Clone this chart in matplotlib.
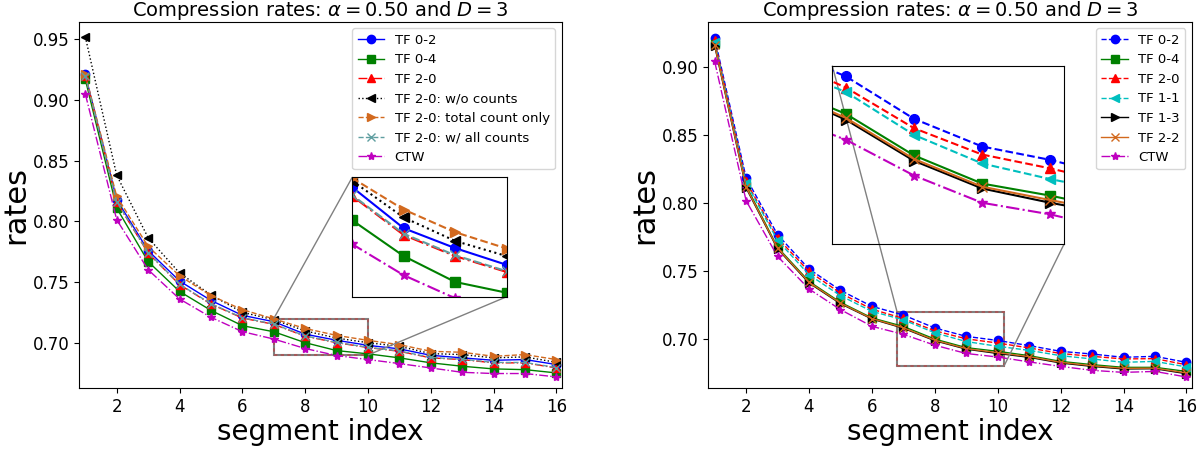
import matplotlib
matplotlib.use('Agg')
import matplotlib.pyplot as plt
import numpy as np
from matplotlib.patches import Rectangle
from mpl_toolkits.axes_grid1.inset_locator import mark_inset


''' Compression rates per segment, two panels with zoomed insets '''

segments = np.arange(1, 17)

# left panel
tf02_l = [0.921, 0.818, 0.776, 0.751, 0.735, 0.7227, 0.7175, 0.7072, 0.7022, 0.6980, 0.6951, 0.6898, 0.6877, 0.6857, 0.6863, 0.6822]
tf04_l = [0.917, 0.811, 0.767, 0.7424, 0.7268, 0.7142, 0.7092, 0.7002, 0.6937, 0.6910, 0.6877, 0.6836, 0.6808, 0.6786, 0.6780, 0.6753]
tf20_l = [0.920, 0.816, 0.774, 0.748, 0.732, 0.7205, 0.7153, 0.7055, 0.7002, 0.6962, 0.6931, 0.6877, 0.6863, 0.6836, 0.6836, 0.6794]
tf20_nocnt = [0.952, 0.838, 0.7866, 0.7576, 0.7395, 0.7252, 0.7191, 0.7099, 0.7040, 0.7002, 0.6972, 0.6912, 0.6904, 0.6877, 0.6885, 0.6840]
tf20_total = [0.921, 0.8206, 0.7794, 0.7553, 0.739, 0.7274, 0.7198, 0.7119, 0.7062, 0.7021, 0.6986, 0.6931, 0.6923, 0.6890, 0.6904, 0.6863]
tf20_all = [0.920, 0.8163, 0.7743, 0.7483, 0.7323, 0.7208, 0.7155, 0.7058, 0.7004, 0.6964, 0.6934, 0.6880, 0.6866, 0.6839, 0.6839, 0.6797]
ctw_l = [0.905, 0.8014, 0.7603, 0.7362, 0.7211, 0.7093, 0.7032, 0.6954, 0.6896, 0.6863, 0.6830, 0.6794, 0.6758, 0.6748, 0.6748, 0.6720]

# right panel
tf02_r = [0.9217, 0.8186, 0.7768, 0.7515, 0.7358, 0.724, 0.7176, 0.7081, 0.7019, 0.6989, 0.6951, 0.6909, 0.6889, 0.6865, 0.6872, 0.6828]
tf04_r = [0.9175, 0.8129, 0.7675, 0.7424, 0.727, 0.7155, 0.7092, 0.6999, 0.6936, 0.6909, 0.6877, 0.6835, 0.6811, 0.6791, 0.6791, 0.6761]
tf20_r = [0.920, 0.816, 0.7743, 0.7497, 0.7338, 0.7219, 0.7151, 0.7060, 0.7001, 0.6970, 0.6934, 0.6893, 0.6872, 0.6853, 0.6855, 0.6810]
tf11_r = [0.9185, 0.8148, 0.7726, 0.7473, 0.7319, 0.7203, 0.7141, 0.7045, 0.6981, 0.6946, 0.6916, 0.6877, 0.6853, 0.6828, 0.6835, 0.6794]
tf13_r = [0.916, 0.8112, 0.7663, 0.7412, 0.726, 0.7147, 0.7079, 0.6987, 0.6925, 0.6893, 0.6865, 0.6823, 0.6798, 0.6779, 0.6781, 0.6744]
tf22_r = [0.9165, 0.8118, 0.7668, 0.7417, 0.7264, 0.7150, 0.7083, 0.6991, 0.6929, 0.6899, 0.6870, 0.6828, 0.6803, 0.6784, 0.6785, 0.6750]
ctw_r = [0.9044, 0.8018, 0.7608, 0.7368, 0.7216, 0.7093, 0.7034, 0.6954, 0.6893, 0.6867, 0.6831, 0.6798, 0.6769, 0.6754, 0.6761, 0.6720]

left_series = [
    (tf02_l, 'TF 0-2', dict(color='b', ls='-', marker='o')),
    (tf04_l, 'TF 0-4', dict(color='g', ls='-', marker='s')),
    (tf20_l, 'TF 2-0', dict(color='r', ls='-.', marker='^')),
    (tf20_nocnt, 'TF 2-0: w/o counts', dict(color='k', ls=':', marker='<')),
    (tf20_total, 'TF 2-0: total count only', dict(color='chocolate', ls='--', marker='>')),
    (tf20_all, 'TF 2-0: w/ all counts', dict(color='cadetblue', ls='--', marker='x')),
    (ctw_l, 'CTW', dict(color='m', ls='-.', marker='*')),
]
right_series = [
    (tf02_r, 'TF 0-2', dict(color='b', ls='--', marker='o')),
    (tf04_r, 'TF 0-4', dict(color='g', ls='-', marker='s')),
    (tf20_r, 'TF 2-0', dict(color='r', ls='--', marker='^')),
    (tf11_r, 'TF 1-1', dict(color='c', ls='--', marker='<')),
    (tf13_r, 'TF 1-3', dict(color='k', ls='-', marker='>')),
    (tf22_r, 'TF 2-2', dict(color='chocolate', ls='-', marker='x')),
    (ctw_r, 'CTW', dict(color='m', ls='-.', marker='*')),
]

fig = plt.figure(figsize=(12.01, 4.51), dpi=100)
ax1 = fig.add_axes([0.0658, 0.14, 0.4019, 0.812])
ax2 = fig.add_axes([0.5898, 0.14, 0.4025, 0.812])
ins1 = fig.add_axes([0.2933, 0.3421, 0.1286, 0.2648])
ins2 = fig.add_axes([0.693, 0.4583, 0.1929, 0.396])


def draw(ax, ins, series, ylim, yticks, zx, zy):
    for vals, name, st in series:
        ax.plot(segments, vals, label=name, lw=1, ms=6, **st)
        ins.plot(segments, vals, lw=1.5, ms=7, **st)
    ax.set_xlim(0.8, 16.17)
    ax.set_ylim(*ylim)
    ax.set_xticks(range(2, 17, 2))
    ax.set_yticks(yticks)
    ax.tick_params(labelsize=12)
    ax.set_title('Compression rates: $\\alpha=0.50$ and $D=3$', fontsize=14, pad=2)
    ax.set_xlabel('segment index', fontsize=20, labelpad=2)
    ax.set_ylabel('rates', fontsize=22, labelpad=2)
    ax.legend(loc='upper right', fontsize=9.5)
    ins.set_xlim(*zx)
    ins.set_ylim(*zy)
    ins.set_xticks([])
    ins.set_yticks([])
    pp, p1, p2 = mark_inset(ax, ins, loc1=2, loc2=4, fc='none', ec='0.5', lw=1)
    pp.set_linewidth(1.5)
    ax.add_patch(Rectangle((zx[0], zy[0]), zx[1] - zx[0], zy[1] - zy[0], fill=False,
                           ec='r', lw=1.2, ls=(0, (2, 2)), alpha=0.35))


draw(ax1, ins1, left_series, (0.663, 0.9645), np.arange(0.70, 0.951, 0.05), (7, 10), (0.69, 0.72))
draw(ax2, ins2, right_series, (0.664, 0.9336), np.arange(0.70, 0.901, 0.05), (6.8, 10.2), (0.68, 0.72))

plt.savefig('out.png', dpi=100)
